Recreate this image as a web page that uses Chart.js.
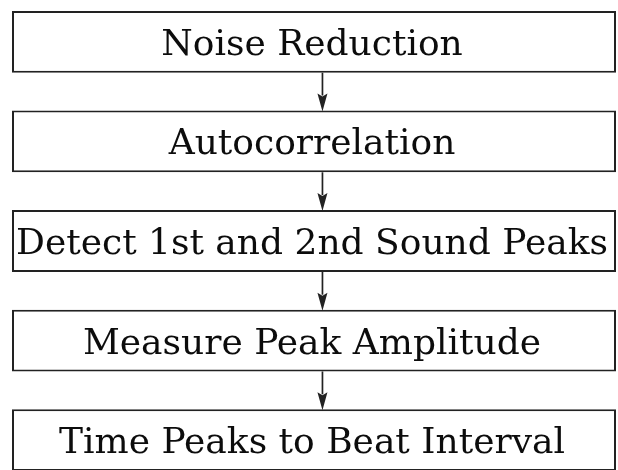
<!DOCTYPE html>
<html>
<head>
<meta charset="utf-8">
<script src="https://cdn.jsdelivr.net/npm/chart.js@4.4.0/dist/chart.umd.min.js"></script>
<style>
  html, body { margin: 0; padding: 0; background: #fff; overflow: hidden; }
  body { width: 618px; height: 470px; position: relative; }
  #wrap { position: absolute; left: 0; top: -8.5px; width: 618px; height: 498px; }
</style>
</head>
<body>
<div id="wrap"><canvas id="flow"></canvas></div>
<script>
'use strict';

// ── Data ────────────────────────────────────────────────
const steps = [
  'Noise Reduction',
  'Autocorrelation',
  'Detect 1st and 2nd Sound Peaks',
  'Measure Peak Amplitude',
  'Time Peaks to Beat Interval',
];
const spans = [[0, 1], [0, 1], [0, 1], [0, 1], [0, 1]]; // each box spans the full row

// ── Style ───────────────────────────────────────────────
const INK      = '#0c0c0c';
const EDGE     = '#222';
const ARROW_AT = 0.514;   // arrow position along the x scale
const FONT     = '36px "DejaVu Serif", serif';

// ── Plugin: arrows between boxes + box labels ───────────
const flowPlugin = {
  id: 'flow',
  afterDatasetsDraw(chart) {
    const { ctx, scales: { x } } = chart;
    const bars = chart.getDatasetMeta(0).data;
    const ax = x.getPixelForValue(ARROW_AT);

    ctx.save();
    ctx.strokeStyle = EDGE;
    ctx.fillStyle   = EDGE;
    ctx.lineWidth   = 1.7;
    for (let i = 0; i < bars.length - 1; i++) {
      const y0 = bars[i].y + bars[i].height / 2;
      const y1 = bars[i + 1].y - bars[i + 1].height / 2 + 1;
      const headLen = 18, headW = 5;
      ctx.beginPath();
      ctx.moveTo(ax, y0);
      ctx.lineTo(ax, y1 - headLen + 2);
      ctx.stroke();
      ctx.beginPath();
      ctx.moveTo(ax, y1);
      ctx.lineTo(ax - headW, y1 - headLen);
      ctx.lineTo(ax, y1 - headLen + 3);
      ctx.lineTo(ax + headW, y1 - headLen);
      ctx.closePath();
      ctx.fill();
    }

    ctx.fillStyle    = INK;
    ctx.font         = FONT;
    ctx.textAlign    = 'center';
    ctx.textBaseline = 'alphabetic';
    bars.forEach((bar, i) => {
      const cx = (bar.base + bar.x) / 2 - 2;
      ctx.fillText(steps[i], cx, bar.y + 13);
    });
    ctx.restore();
  },
};

// ── Chart ───────────────────────────────────────────────
new Chart(document.getElementById('flow'), {
  type: 'bar',
  data: {
    labels: steps,
    datasets: [{
      data: spans,
      backgroundColor: '#fff',
      borderColor: EDGE,
      borderWidth: 2,
      borderSkipped: false,
      categoryPercentage: 0.62,
      barPercentage: 1,
    }],
  },
  options: {
    indexAxis: 'y',
    animation: false,
    responsive: true,
    maintainAspectRatio: false,
    layout: { padding: { left: 12, right: 2, top: 0, bottom: 0 } },
    plugins: { legend: { display: false }, tooltip: { enabled: false } },
    scales: {
      x: { display: false, min: 0, max: 1 },
      y: { display: false },
    },
  },
  plugins: [flowPlugin],
});
</script>
</body>
</html>
